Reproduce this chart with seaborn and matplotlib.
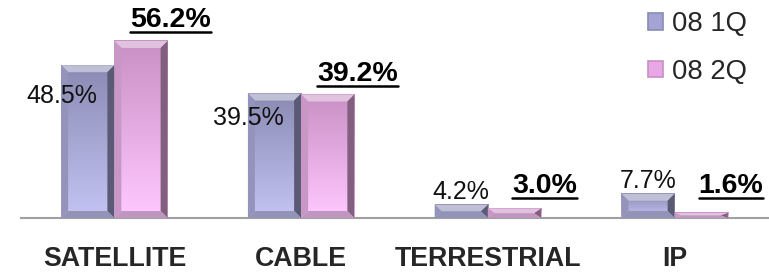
import numpy as np
import pandas as pd
import seaborn as sns
import matplotlib.pyplot as plt
from matplotlib.patches import Polygon, Patch
from matplotlib.lines import Line2D
from matplotlib.colors import to_rgb

# Data
categories = ["SATELLITE", "CABLE", "TERRESTRIAL", "IP"]
quarters = ["08 1Q", "08 2Q"]
share_1q = [48.5, 39.5, 4.2, 7.7]
share_2q = [56.2, 39.2, 3.0, 1.6]

# Colours: (top of face, bottom of face)
FACE = {"08 1Q": ("#8a8ab4", "#c4c4f4"), "08 2Q": ("#c890c4", "#ffc8ff")}
MID = {"08 1Q": "#a4a4d4", "08 2Q": "#e8a8e8"}

W, H, DPI = 7.69, 2.74, 100
YMAX = 69.2

df = pd.DataFrame({
    "segment": categories * 2,
    "share": share_1q + share_2q,
    "quarter": [quarters[0]] * 4 + [quarters[1]] * 4,
})

sns.set_style("white")
plt.rcParams["font.family"] = ["Liberation Sans", "DejaVu Sans"]

fig = plt.figure(figsize=(W, H), dpi=DPI)
ax = fig.add_axes([21 / 769, 56 / 274, 747 / 769, 218 / 274])

sns.barplot(data=df, x="segment", y="share", hue="quarter", palette=MID,
            width=0.57, saturation=1, ax=ax, legend=False)
ax.set_ylim(0, YMAX)
ax.set_xlim(-0.5, 3.5)


def mix(c, other, t):
    c = np.array(to_rgb(c))
    o = np.array(to_rgb(other))
    return tuple(c * (1 - t) + o * t)


# pixel -> data conversions for bevel size
px_x = 1.0 / 187
px_y = YMAX / 218
bev = 7

bars = ax.patches[:]
for i, bar in enumerate(bars):
    q = quarters[i // 4]
    top_c, bot_c = FACE[q]
    x0, w, h = bar.get_x(), bar.get_width(), bar.get_height()
    bar.set_alpha(0)
    # face gradient
    grad = np.linspace(0, 1, 64)
    rgb = np.array([mix(top_c, bot_c, t) for t in grad])[:, None, :]
    ax.imshow(rgb, extent=[x0, x0 + w, 0, h], aspect="auto", origin="upper", zorder=2)
    bx = min(bev * px_x, w / 2)
    by = min(bev * px_y, h / 2)
    x1 = x0 + w
    polys = [
        # top bevel
        ([(x0, h), (x1, h), (x1 - bx, h - by), (x0 + bx, h - by)], mix(top_c, "white", 0.45)),
        # left bevel
        ([(x0, 0), (x0, h), (x0 + bx, h - by), (x0 + bx, by)], mix(mix(top_c, bot_c, 0.5), "black", 0.12)),
        # right bevel
        ([(x1, 0), (x1, h), (x1 - bx, h - by), (x1 - bx, by)], mix(top_c, "black", 0.35)),
        # bottom bevel
        ([(x0, 0), (x1, 0), (x1 - bx, by), (x0 + bx, by)], mix(bot_c, "black", 0.25)),
    ]
    for pts, col in polys:
        ax.add_patch(Polygon(pts, closed=True, facecolor=col, edgecolor="none", zorder=3))

# value labels
under_texts = []
for i, bar in enumerate(bars):
    cx = bar.get_x() + bar.get_width() / 2
    val = bar.get_height()
    if i < 4:
        if val > 20:
            ax.text(cx - 0.14, val * 0.8, f"{val:.1f}%", ha="center", va="center",
                    fontsize=18, color="#111111", zorder=5)
        else:
            ax.text(cx, val + 4.0, f"{val:.1f}%", ha="center", va="center",
                    fontsize=18, color="#111111", zorder=5)
    else:
        t = ax.text(cx + 0.16, max(val, 3.5) + 6.6, f"{val:.1f}%", ha="center", va="center",
                    fontsize=20.5, fontweight="bold", color="black", zorder=5)
        under_texts.append(t)

# axis styling
sns.despine(ax=ax, left=True, right=True, top=True)
ax.spines["bottom"].set_color("#a0a0a0")
ax.spines["bottom"].set_linewidth(1.5)
ax.set_yticks([])
ax.set_xlabel("")
ax.set_ylabel("")
ax.set_xticks(range(len(categories)))
ax.set_xticklabels(categories, fontsize=19.3, fontweight="bold")
ax.tick_params(axis="x", which="major", length=0, pad=20)
ax.set_xticks(np.arange(-0.5, 4.0, 1.0), minor=True)
ax.tick_params(axis="x", which="minor", length=8, width=1.5, color="#a0a0a0", direction="out")

# legend
handles = [Patch(facecolor=MID[q], edgecolor=FACE[q][0], linewidth=1.2) for q in quarters]
fig.legend(handles, quarters, loc="upper left", bbox_to_anchor=(632 / 769, 1.02),
           frameon=False, fontsize=19.7, handlelength=0.55, handleheight=0.55,
           handletextpad=0.3, labelspacing=0.8, borderaxespad=0.2)

# underline the 2Q labels
fig.canvas.draw()
renderer = fig.canvas.get_renderer()
for t in under_texts:
    bb = t.get_window_extent(renderer)
    y = bb.y0 + 1
    fig.add_artist(Line2D([bb.x0 / (W * DPI), bb.x1 / (W * DPI)],
                          [y / (H * DPI), y / (H * DPI)],
                          transform=fig.transFigure, color="black", linewidth=1.8))

fig.savefig("out.png", dpi=DPI)
